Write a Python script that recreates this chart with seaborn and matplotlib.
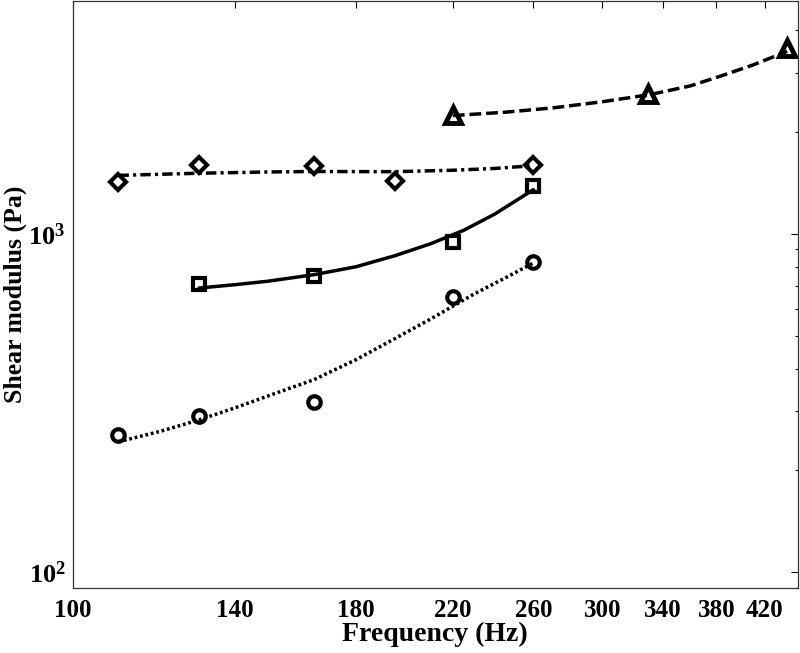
import numpy as np
import matplotlib
matplotlib.use('Agg')
import matplotlib.pyplot as plt
import seaborn as sns

# measured points (markers)
diamond_f = [110, 130, 165, 195, 260]
diamond_g = [1421, 1603, 1585, 1431, 1603]
square_f = [130, 165, 220, 260]
square_g = [711, 753, 944, 1383]
circle_f = [110, 130, 165, 220, 260]
circle_g = [255, 289, 318, 651, 824]
triangle_f = [220, 330, 440]
triangle_g = [2254, 2601, 3551]

# trend curves
diamond_fit_f = [110, 130, 150, 165, 195, 220, 240, 260]
diamond_fit_g = [1490, 1512, 1525, 1530, 1528, 1543, 1562, 1592]
square_fit_f = [130, 140, 150, 165, 180, 195, 210, 225, 240, 260]
square_fit_g = [692, 708, 725, 758, 800, 862, 935, 1025, 1145, 1352]
circle_fit_f = [110, 120, 130, 140, 150, 165, 180, 195, 210, 230, 245, 260]
circle_fit_g = [243, 261, 282, 306, 332, 371, 425, 490, 560, 665, 740, 821]
triangle_fit_f = [220, 245, 271, 300, 331, 360, 383, 410, 440]
triangle_fit_g = [2239, 2290, 2360, 2460, 2582, 2740, 2927, 3160, 3467]

x_ticks = [100, 140, 180, 220, 260, 300, 340, 380, 420]

sns.set_style('white')
plt.rcParams['font.family'] = ['Liberation Serif', 'DejaVu Serif']
plt.rcParams['font.weight'] = 'bold'
plt.rcParams['text.color'] = 'k'
plt.rcParams['axes.labelcolor'] = 'k'
plt.rcParams['mathtext.fontset'] = 'custom'
plt.rcParams['mathtext.rm'] = 'Liberation Serif:bold'
plt.rcParams['mathtext.bf'] = 'Liberation Serif:bold'

fig = plt.figure(figsize=(8, 6.53), dpi=100)
ax = fig.add_axes([72.5 / 800, 1 - 587.7 / 653, (798 - 72.5) / 800, (587.7 - 0.5) / 653])

lw = 2.5
sns.lineplot(x=circle_fit_f, y=circle_fit_g, ax=ax, color='k', lw=lw,
             linestyle=(0, (0.8, 0.8)), sort=False)
sns.lineplot(x=square_fit_f, y=square_fit_g, ax=ax, color='k', lw=lw, sort=False)
sns.lineplot(x=diamond_fit_f, y=diamond_fit_g, ax=ax, color='k', lw=lw,
             linestyle=(0, (3.0, 1.2, 0.9, 1.2)), sort=False)
sns.lineplot(x=triangle_fit_f, y=triangle_fit_g, ax=ax, color='k', lw=lw,
             linestyle=(0, (3.4, 1.4)), sort=False)

mk = dict(ax=ax, color='k', linestyle='', mfc='none', mec='k', sort=False)
sns.lineplot(x=diamond_f, y=diamond_g, marker='D', ms=8, mew=3, **mk)
sns.lineplot(x=square_f, y=square_g, marker='s', ms=8, mew=3, **mk)
sns.lineplot(x=circle_f, y=circle_g, marker='o', ms=9, mew=3, **mk)
sns.lineplot(x=triangle_f, y=triangle_g, marker='^', ms=12, mew=3.5, **mk)

ax.set_xscale('log')
ax.set_yscale('log')
ax.set_xlim(100, 450)
ax.set_ylim(90, 4900)

ax.set_xticks(x_ticks)
ax.set_xticklabels([str(t) for t in x_ticks])
ax.xaxis.set_minor_locator(matplotlib.ticker.NullLocator())
ax.set_yticks([100, 1000])
ax.set_yticklabels([r'$\mathbf{10^{2}}$', r'$\mathbf{10^{3}}$'])
ax.yaxis.set_minor_locator(matplotlib.ticker.LogLocator(base=10, subs=np.arange(2, 10)))
ax.yaxis.set_minor_formatter(matplotlib.ticker.NullFormatter())

ax.tick_params(which='both', direction='in', top=True, right=True, colors='k',
               labelcolor='k', labelsize=18)
ax.tick_params(which='major', length=5, width=0.8)
ax.tick_params(which='minor', length=2.5, width=0.8)
ax.tick_params(axis='x', pad=8)
ax.tick_params(axis='y', pad=5, labelsize=19)

for s in ax.spines.values():
    s.set_color('#333333')
    s.set_linewidth(0.9)

ax.set_xlabel('Frequency (Hz)', fontsize=20, fontweight='bold', labelpad=0)
ax.set_ylabel('Shear modulus (Pa)', fontsize=18.5, fontweight='bold')
ax.yaxis.set_label_coords(-0.063, 0.5)

fig.savefig('out.png', dpi=100)
